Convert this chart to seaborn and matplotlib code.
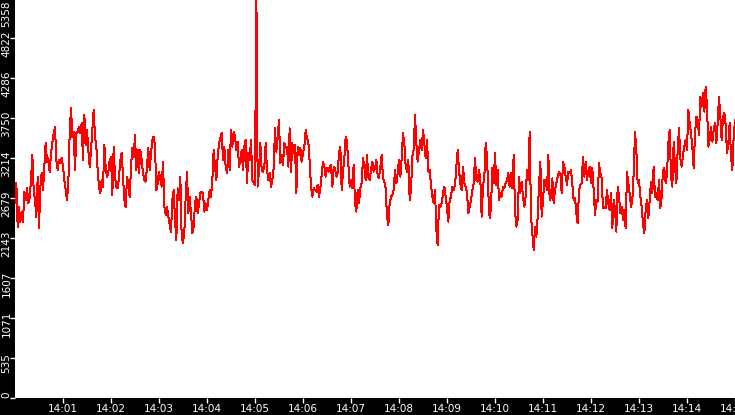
import matplotlib
matplotlib.use("Agg")
import matplotlib.pyplot as plt
import matplotlib.transforms as mtransforms
import pandas as pd
import seaborn as sns

# values, one sample every ~1.7 s from 14:00:00 to 14:15:00
seg_a = [2612, 2880, 2291, 2558, 2358, 2491, 2358, 2759, 2652, 2813,
         2612, 2679, 2920, 3255, 2786, 2652, 2424, 2960, 2277, 2826,
         3014, 2786, 3094, 3416, 3161, 3215, 3027, 3282, 3416, 3550,
         3630, 3188, 3054, 3188, 3148, 3215, 3094, 2920, 2786, 2652,
         2880, 3550, 3885, 3496, 3563, 3054, 3550, 3563, 3630, 3550,
         3684, 3188, 3791, 3389, 3590, 3322, 3094, 3322, 3590, 3858,
         3496, 3362, 3054, 2826, 2746, 2920, 2826, 3389, 3094, 2960,
         3027, 3188, 3228, 2719, 3362, 2960, 2826, 2813, 2960, 3188,
         3282, 2960, 2652, 2558, 2960, 2880, 2692, 3094, 3349, 3228,
         3523, 3054, 3322, 3014, 3322, 3188, 3014, 2920]
seg_b = [2898, 3099, 3345, 3054, 3278, 3456, 3501, 3367, 2786, 2876,
         3032, 2920, 2831, 3166, 2563, 2452, 2563, 2429, 2318, 2228,
         2652, 2786, 2385, 2117, 2809, 2652, 2965, 2161, 2072, 2228,
         2697, 3032, 2474, 2697, 2474, 2206, 2295, 2608, 2697, 2474,
         2608, 2742, 2764, 2742, 2496, 2608, 2519, 2652, 2786, 2697,
         2920, 3322, 3099, 2920, 3233, 3412, 3479, 3546, 3188, 3367,
         3099, 3010, 3322, 3054, 3590, 3367, 3568, 3501, 3322, 3434,
         3099, 3188, 3322, 3054, 3367, 3456, 2876, 3278, 3188, 3456,
         2920, 2876, 2853, 5500, 2831, 3054, 3412, 3054, 3032, 3099,
         3412, 3054, 2920]
seg_c = [3010, 2831, 2920, 3077, 3612, 3300, 3479, 3724, 3144, 3255,
         3121, 3412, 3345, 3367, 3099, 3612, 3032, 3412, 3278, 3389,
         2742, 3367, 3255, 3345, 3166, 3278, 3367, 3590, 3479, 3434,
         3166, 2831, 2697, 2809, 2786, 2764, 2853, 2697, 2809, 2987,
         3166, 3099, 2965, 3077, 3032, 3099, 3121, 2831, 3099, 3077,
         2965, 3010, 3278, 3367, 2786, 3032, 3211, 3501, 3434, 3121,
         2831, 2920, 2809, 3121, 2608, 2496, 2786, 2608, 2809, 2876,
         3211, 3099, 2920, 3255, 2965, 2920, 3054, 3166, 3032, 3077,
         3188, 2987, 2943, 3099, 3255, 2943, 2898, 2809, 2429, 2318,
         2608, 2697, 2720, 2786, 3054, 2876, 3010, 3188]
seg_d = [2965, 3211, 3546, 3412, 3099, 3032, 3188, 2652, 2786, 3233,
         3322, 3791, 3412, 3166, 3322, 3456, 3322, 3590, 3412, 3211,
         3456, 3032, 3054, 2853, 2697, 2608, 2786, 2251, 2050, 2586,
         2563, 2608, 2742, 2831, 2697, 2541, 2362, 2652, 2697, 2831,
         2786, 2853, 3099, 3322, 3054, 2876, 2786, 3099, 2876, 2831,
         2742, 2474, 2563, 2652, 2786, 2876, 3211, 2920, 2898, 3054,
         2920, 2429, 2831, 2965, 3412, 3233, 2742, 2407, 2563, 3077,
         2876, 3278, 2853, 3054, 2652, 2742, 2697, 2831, 2809, 2876,
         2920, 3010, 2831, 3010, 2809, 3255, 2519, 2295, 2385, 2965,
         2742, 2898, 2697, 2563, 2697, 3054, 2920, 3568]
seg_e = [2429, 2206, 1983, 2295, 2161, 2429, 2853, 3166, 2429, 2652,
         2920, 2920, 2786, 3255, 2652, 2697, 2943, 2608, 2786, 2876,
         2965, 3032, 3010, 2742, 3166, 3099, 2965, 2853, 3032, 3010,
         3054, 2853, 2652, 2675, 2474, 2340, 2786, 2853, 2876, 3233,
         2965, 3166, 2920, 3032, 3099, 2876, 3077, 2786, 2452, 2652,
         2630, 3144, 3010, 2943, 2541, 2563, 2541, 2786, 2608, 2519,
         2742, 2273, 2652, 2541, 2228, 2831, 2697, 2474, 2563, 2385,
         2519, 2273, 3032, 2876, 2742, 2563, 2652, 3010, 3568, 3322,
         2876, 2920, 2697, 2563, 2340, 2206, 2519, 2652, 2407, 2652,
         2898, 2742, 3099, 2697, 2742, 2652, 2920]
seg_f = [2541, 2697, 3054, 3077, 2876, 3010, 3412, 3590, 2965, 2831,
         3434, 3099, 2876, 3322, 3613, 3211, 3099, 3255, 3367, 3456,
         3322, 3858, 3680, 3546, 3367, 3077, 3546, 3769, 3724, 3523,
         4037, 3903, 4081, 3836, 4171, 3903, 3367, 3456, 3635, 3434,
         3590, 3680, 3412, 3680, 4037, 3769, 3456, 3769, 3814, 3657,
         3278, 3412, 3680, 3233, 3054, 3501, 3724]

values = seg_a + seg_b + seg_c + seg_d + seg_e + seg_f
start = "2024-01-01 14:00:00"
end = "2024-01-01 14:15:00"

y_ticks = [0, 535.8, 1071.6, 1607.4, 2143.2, 2679.0, 3214.8, 3750.6, 4286.4, 4822.2, 5358.0]
y_labels = ["0", "535", "1071", "1607", "2143", "2679", "3214", "3750", "4286", "4822", "5358"]
x_labels = ["14:%02d" % m for m in range(1, 16)]

times = pd.date_range(start, end, periods=len(values))
df = pd.DataFrame({"time": times, "value": values})

sns.set_style("white")
plt.rcParams["font.family"] = ["DejaVu Sans"]

fig = plt.figure(figsize=(7.35, 4.15), dpi=100, facecolor="black")
ax = fig.add_axes([15 / 735, 17 / 415, 720 / 735, 400 / 415])
ax.set_facecolor("white")

sns.lineplot(data=df, x="time", y="value", color="#ff0000", linewidth=0.72,
             antialiased=False, ax=ax, sort=False)

ax.set_xlim(times[0], times[-1])
ax.set_ylim(0, 5358)
ax.set_xlabel("")
ax.set_ylabel("")
for s in ax.spines.values():
    s.set_visible(False)

ax.set_yticks(y_ticks)
ax.set_yticklabels(y_labels)
x_ticks = pd.date_range("2024-01-01 14:01:00", end, freq="min")
ax.set_xticks(x_ticks)
ax.set_xticklabels(x_labels)

ax.tick_params(axis="both", colors="white", labelcolor="white", direction="out",
               length=3.6, width=1, labelsize=7.5)
ax.tick_params(axis="y", pad=-1, left=True)
ax.tick_params(axis="x", pad=0.5, bottom=True)

shift = mtransforms.ScaledTranslation(0, -4 / 72, fig.dpi_scale_trans)
labels = ax.get_yticklabels()
for i, lab in enumerate(labels):
    lab.set_rotation(90)
    if i == 0:
        lab.set_va("bottom")
    elif i == len(labels) - 1:
        lab.set_va("top")
        lab.set_transform(lab.get_transform() + mtransforms.ScaledTranslation(0, -2 / 72, fig.dpi_scale_trans))
    else:
        lab.set_va("center")
        lab.set_transform(lab.get_transform() + shift)

fig.savefig("out.png", dpi=100, facecolor="black")
